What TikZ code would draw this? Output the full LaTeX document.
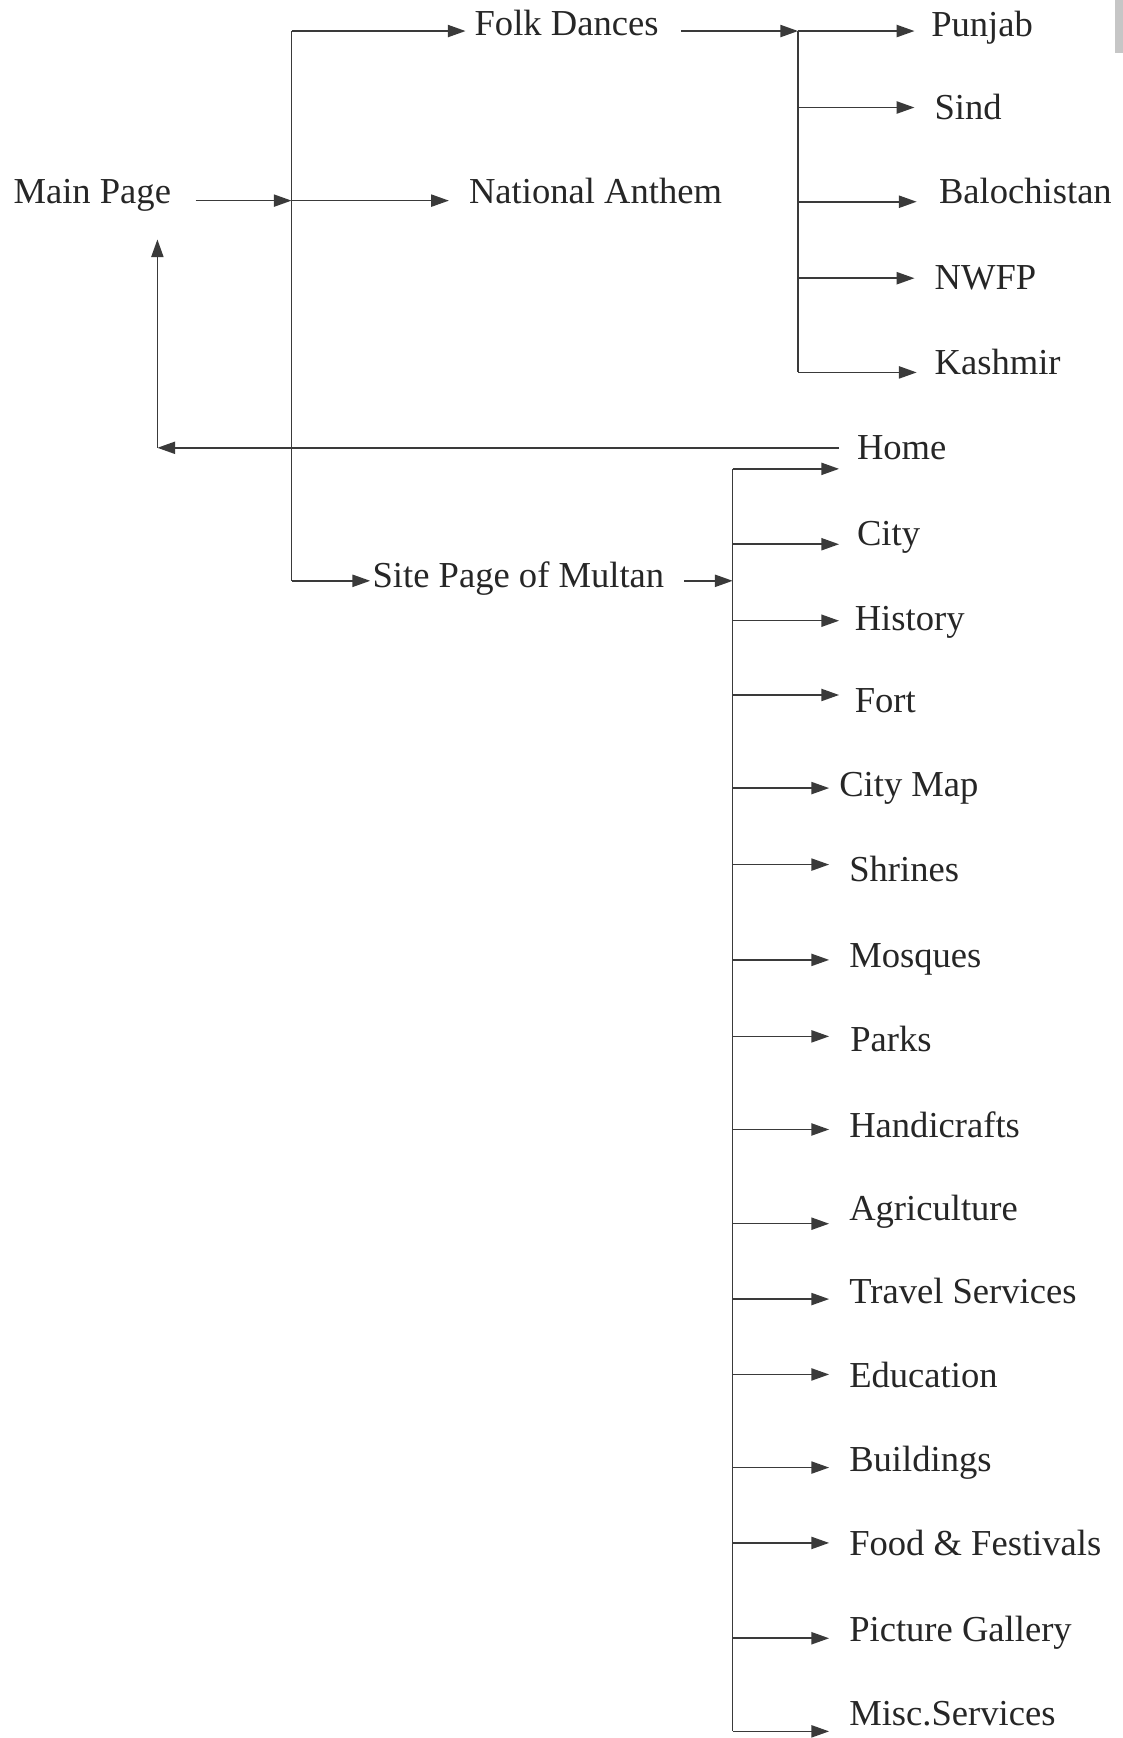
\documentclass[tikz,border=0pt]{standalone}
\usepackage{fontspec}
\setmainfont{Liberation Serif}
\usetikzlibrary{arrows.meta}
\definecolor{ink}{HTML}{3A3A3A}
\definecolor{txt}{HTML}{262626}
\begin{document}
\begin{tikzpicture}[x=1pt,y=-1pt,
  lbl/.style={anchor=base west,inner sep=0pt,text=txt,font=\fontsize{33}{39}\selectfont},
  conn/.style={draw=ink,line width=1.4pt},
  arr/.style={conn,-{Triangle[length=16pt,width=11pt]}}]
\useasboundingbox (0,0) rectangle (1013,1568);
\fill[gray!45] (1006,0) rectangle (1013,48);
% top level
\node[lbl] (main) at (12,184) {Main Page};
\node[lbl] (folk) at (428,32) {Folk Dances};
\node[lbl] (anthem) at (423,184) {National Anthem};
\node[lbl] (site) at (336,530) {Site Page of Multan};
\node[lbl] (home) at (773,415) {Home};
% junctions
\coordinate (jA) at (263,181);
\coordinate (jAtop) at (263,28);
\coordinate (jAbot) at (263,524);
\coordinate (jB) at (720,28);
\coordinate (jBbot) at (720,336);
\coordinate (jC) at (661,524);
\coordinate (jCtop) at (661,423);
\coordinate (jCbot) at (661,1562);
\coordinate (ret) at (142,404);
\coordinate (retTop) at (142,216);
% trunk lines
\draw[conn] (jAtop) -- (jAbot);
\draw[conn] (jB) -- (jBbot);
\draw[conn] (jCtop) -- (jCbot);
% main arrows
\draw[arr] ([xshift=22pt]main.east |- jA) -- (jA);
\draw[arr] (jAtop) -- ([xshift=-8pt]folk.west |- jAtop);
\draw[arr] (jA) -- ([xshift=-18pt]anthem.west |- jA);
\draw[arr] (jAbot) -- ([xshift=-2pt]site.west |- jAbot);
\draw[arr] ([xshift=20pt]folk.east |- jB) -- (jB);
\draw[arr] ([xshift=18pt]site.east |- jC) -- (jC);
% return from Home
\draw[arr] ([xshift=-16pt]home.west |- ret) -- (ret);
\draw[arr] (ret) -- (retTop);
% provinces
\foreach \n/\t/\tx/\b/\ay/\tip in {
  punjab/Punjab/840/33/28/825,
  sind/Sind/843/108/97/825,
  baloch/Balochistan/847/184/182/827,
  nwfp/NWFP/843/261/251/825,
  kashmir/Kashmir/843/338/336/827}{
  \node[lbl] (\n) at (\tx,\b) {\t};
  \coordinate (\n-tip) at (\tip,\ay);
  \draw[arr] (jB |- \n-tip) -- (\n-tip);
}
% Home arrow
\coordinate (home-tip) at (757,423);
\draw[arr] (jCtop) -- (home-tip);
% Multan pages
\foreach \n/\t/\tx/\b/\ay/\tip in {
  city/City/773/492/491/757,
  history/History/771/569/560/757,
  fort/Fort/771/643/627/757,
  citymap/City Map/757/719/711/748,
  shrines/Shrines/766/795/780/748,
  mosques/Mosques/766/873/866/748,
  parks/Parks/767/949/935/748,
  handi/Handicrafts/766/1026/1019/748,
  agri/Agriculture/766/1101/1104/748,
  travel/Travel Services/766/1176/1172/748,
  edu/Education/766/1252/1240/748,
  build/Buildings/766/1328/1324/748,
  food/Food \& Festivals/766/1403/1392/748,
  pic/Picture Gallery/766/1481/1478/748,
  misc/Misc.Services/766/1557/1562/748}{
  \node[lbl] (\n) at (\tx,\b) {\t};
  \coordinate (\n-tip) at (\tip,\ay);
  \draw[arr] (jC |- \n-tip) -- (\n-tip);
}
\end{tikzpicture}
\end{document}
